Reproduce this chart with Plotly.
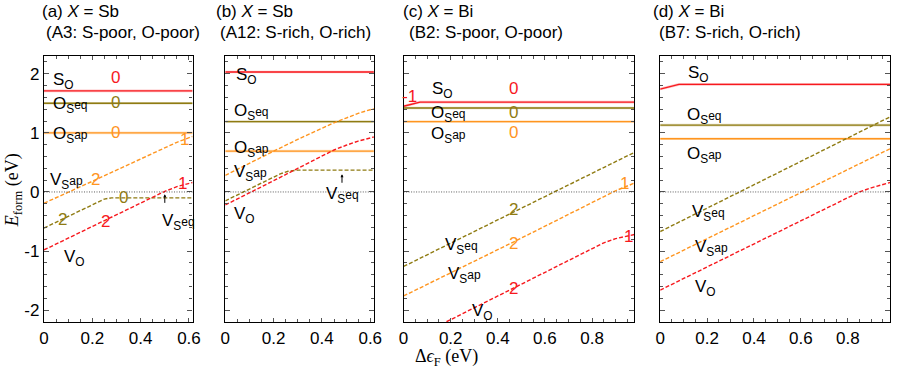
import plotly.graph_objects as go

# ---- data (x in eV of Fermi level shift, y in eV) ----
# panel (a) X = Sb, A3
a_x_flat = [0, 0.615]
a_SO = [1.71, 1.71]
a_OSeq = [1.50, 1.50]
a_OSap = [1.00, 1.00]
a_VSap_x = [0, 0.1, 0.2, 0.3, 0.4, 0.45, 0.5, 0.55, 0.615]
a_VSap = [-0.19, -0.01, 0.18, 0.37, 0.56, 0.66, 0.75, 0.84, 0.94]
a_VSeq_x = [0, 0.1, 0.2, 0.22, 0.25, 0.28, 0.615]
a_VSeq = [-0.61, -0.41, -0.21, -0.17, -0.12, -0.10, -0.10]
a_VO_x = [0, 0.1, 0.2, 0.3, 0.4, 0.5, 0.55, 0.615]
a_VO = [-0.98, -0.78, -0.58, -0.38, -0.18, 0.01, 0.09, 0.16]

# panel (b) X = Sb, A12
b_x_flat = [0, 0.615]
b_SO = [2.03, 2.03]
b_OSeq = [1.19, 1.19]
b_OSap = [0.69, 0.69]
b_VSap_x = [0, 0.1, 0.2, 0.3, 0.4, 0.45, 0.5, 0.55, 0.615]
b_VSap = [0.28, 0.49, 0.69, 0.89, 1.08, 1.17, 1.25, 1.33, 1.41]
b_VSeq_x = [0, 0.1, 0.2, 0.23, 0.26, 0.3, 0.615]
b_VSeq = [-0.15, 0.05, 0.25, 0.31, 0.35, 0.37, 0.37]
b_VO_x = [0, 0.1, 0.2, 0.3, 0.4, 0.45, 0.5, 0.55, 0.615]
b_VO = [-0.22, -0.02, 0.19, 0.40, 0.61, 0.71, 0.79, 0.86, 0.93]

# panel (c) X = Bi, B2
c_SO_x = [0, 0.07, 0.98]
c_SO = [1.45, 1.52, 1.52]
c_x_flat = [0, 0.98]
c_OSeq = [1.42, 1.42]
c_OSap = [1.19, 1.19]
c_VSeq_x = [0, 0.5, 0.98]
c_VSeq = [-1.26, -0.28, 0.67]
c_VSap_x = [0, 0.5, 0.9, 0.98]
c_VSap = [-1.76, -0.78, 0.02, 0.15]
c_VO_x = [0, 0.18, 0.5, 0.8, 0.85, 0.9, 0.98]
c_VO = [-2.56, -2.20, -1.55, -0.95, -0.86, -0.79, -0.72]

# panel (d) X = Bi, B7
d_SO_x = [0, 0.08, 0.98]
d_SO = [1.74, 1.82, 1.82]
d_x_flat = [0, 0.98]
d_OSeq = [1.13, 1.13]
d_OSap = [0.90, 0.90]
d_VSeq_x = [0, 0.98]
d_VSeq = [-0.67, 1.27]
d_VSap_x = [0, 0.98]
d_VSap = [-1.18, 0.73]
d_VO_x = [0, 0.8, 0.85, 0.9, 0.98]
d_VO = [-1.66, -0.09, 0.0, 0.07, 0.16]

titles = ["(a) <i>X</i> = Sb", "(b) <i>X</i> = Sb", "(c) <i>X</i> = Bi", "(d) <i>X</i> = Bi"]
subtitles = ["(A3: S-poor, O-poor)", "(A12: S-rich, O-rich)",
             "(B2: S-poor, O-poor)", "(B7: S-rich, O-rich)"]
y_ticks = [-2, -1, 0, 1, 2]
y_ticktext = ["-2", "-1", "0", "1", "2"]
x_ticks_sb = [0, 0.2, 0.4, 0.6]
x_ticks_bi = [0, 0.2, 0.4, 0.6, 0.8]

RED = "#f7191e"
OLIVE = "#8f7b12"
ORANGE = "#ff951f"
SANS = "Liberation Sans, Arial, sans-serif"
SERIF = "Liberation Serif, Times New Roman, serif"

# pixel layout of the panels
W, H = 899, 376
L, R, T, B = 44, 1, 56, 54
panel_px = [(44, 194), (227, 377), (407, 640), (666, 898)]
xranges = [[0, 0.615], [0, 0.615], [0, 0.98], [0, 0.98]]

fig = go.Figure()


def px_x(p):
    return (p - L) / (W - L - R)


def px_y(p):
    return (H - B - p) / (H - T - B)


def axn(i):
    return "" if i == 0 else str(i + 1)


def solid(i, x, y, color):
    ax = axn(i)
    fig.add_trace(go.Scatter(x=x, y=y, mode="lines", xaxis="x" + ax, yaxis="y" + ax,
                             line=dict(color=color, width=2.6), opacity=0.25,
                             showlegend=False, hoverinfo="skip"))
    fig.add_trace(go.Scatter(x=x, y=y, mode="lines", xaxis="x" + ax, yaxis="y" + ax,
                             line=dict(color=color, width=1.4), showlegend=False))


def dashed(i, x, y, color):
    ax = axn(i)
    fig.add_trace(go.Scatter(x=x, y=y, mode="lines", xaxis="x" + ax, yaxis="y" + ax,
                             line=dict(color=color, width=1.4, dash="4px,2px"),
                             showlegend=False))


def label(i, x, y, text, color="black", size=17, anchor="left"):
    ax = axn(i)
    fig.add_annotation(x=x, y=y, xref="x" + ax, yref="y" + ax, text=text,
                       showarrow=False, xanchor=anchor, yanchor="middle",
                       font=dict(family=SANS, size=size, color=color))


def arrow(i, x, y0, y1):
    ax = axn(i)
    fig.add_annotation(x=x, y=y1, ax=x, ay=y0, xref="x" + ax, yref="y" + ax,
                       axref="x" + ax, ayref="y" + ax, text="", showarrow=True,
                       arrowhead=2, arrowsize=0.6, arrowwidth=1, arrowcolor="black")


# panel a
solid(0, a_x_flat, a_SO, RED)
solid(0, a_x_flat, a_OSeq, OLIVE)
solid(0, a_x_flat, a_OSap, ORANGE)
dashed(0, a_VSap_x, a_VSap, ORANGE)
dashed(0, a_VSeq_x, a_VSeq, OLIVE)
dashed(0, a_VO_x, a_VO, RED)
# panel b
solid(1, b_x_flat, b_SO, RED)
solid(1, b_x_flat, b_OSeq, OLIVE)
solid(1, b_x_flat, b_OSap, ORANGE)
dashed(1, b_VSap_x, b_VSap, ORANGE)
dashed(1, b_VSeq_x, b_VSeq, OLIVE)
dashed(1, b_VO_x, b_VO, RED)
# panel c
solid(2, c_SO_x, c_SO, RED)
solid(2, c_x_flat, c_OSeq, OLIVE)
solid(2, c_x_flat, c_OSap, ORANGE)
dashed(2, c_VSeq_x, c_VSeq, OLIVE)
dashed(2, c_VSap_x, c_VSap, ORANGE)
dashed(2, c_VO_x, c_VO, RED)
# panel d
solid(3, d_SO_x, d_SO, RED)
solid(3, d_x_flat, d_OSeq, OLIVE)
solid(3, d_x_flat, d_OSap, ORANGE)
dashed(3, d_VSeq_x, d_VSeq, OLIVE)
dashed(3, d_VSap_x, d_VSap, ORANGE)
dashed(3, d_VO_x, d_VO, RED)

EQ = "<span style='font-size:12px'>eq</span>"
AP = "<span style='font-size:12px'>ap</span>"
S_O = "S<sub>O</sub>"
O_Seq = "O<sub>S</sub>" + EQ
O_Sap = "O<sub>S</sub>" + AP
V_Seq = "V<sub>S</sub>" + EQ
V_Sap = "V<sub>S</sub>" + AP
V_O = "V<sub>O</sub>"

# species labels
label(0, 0.03, 1.88, S_O)
label(0, 0.03, 1.47, O_Seq)
label(0, 0.03, 0.97, O_Sap)
label(0, 0.015, 0.18, V_Sap)
label(0, 0.075, -1.12, V_O)
label(0, 0.48, -0.50, V_Seq)
arrow(0, 0.50, -0.21, -0.04)

label(1, 0.035, 1.96, S_O)
label(1, 0.028, 1.36, O_Seq)
label(1, 0.028, 0.72, O_Sap)
label(1, 0.028, 0.32, V_Sap)
label(1, 0.028, -0.39, V_O)
label(1, 0.41, -0.05, V_Seq)
arrow(1, 0.483, 0.13, 0.30)

label(2, 0.11, 1.73, S_O)
label(2, 0.107, 1.32, O_Seq)
label(2, 0.107, 0.97, O_Sap)
label(2, 0.167, -0.92, V_Seq)
label(2, 0.181, -1.41, V_Sap)
label(2, 0.282, -2.03, V_O)

label(3, 0.108, 2.0, S_O)
label(3, 0.104, 1.28, O_Seq)
label(3, 0.104, 0.62, O_Sap)
label(3, 0.126, -0.36, V_Seq)
label(3, 0.141, -0.95, V_Sap)
label(3, 0.141, -1.63, V_O)

# charge-state labels
charge_a = [(0.295, 1.93, "0", RED), (0.295, 1.51, "0", OLIVE), (0.295, 1.0, "0", ORANGE),
            (0.63, 1.53, "-1", OLIVE), (0.58, 0.89, "1", ORANGE), (0.214, 0.21, "2", ORANGE),
            (0.575, 0.15, "1", RED), (0.33, -0.10, "0", OLIVE), (0.075, -0.46, "2", OLIVE),
            (0.255, -0.50, "2", RED)]
charge_c = [(0.027, 1.62, "-1", RED), (0.465, 1.75, "0", RED), (0.465, 1.35, "0", OLIVE),
            (0.465, 1.0, "0", ORANGE), (0.465, -0.30, "2", OLIVE), (0.465, -0.88, "2", ORANGE),
            (0.465, -1.63, "2", RED), (0.94, 0.14, "1", ORANGE), (0.955, -0.76, "1", RED)]
for x, y, t, c in charge_a:
    label(0, x, y, t, color=c, anchor="center")
for x, y, t, c in charge_c:
    label(2, x, y, t, color=c, anchor="center")

layout = dict(width=W, height=H, margin=dict(l=L, r=R, t=T, b=B),
              paper_bgcolor="white", plot_bgcolor="white", showlegend=False)
shapes = []
for i in range(4):
    ax = axn(i)
    d0 = px_x(panel_px[i][0])
    d1 = min(1, px_x(panel_px[i][1]))
    layout["xaxis" + ax] = dict(
        domain=[d0, d1], range=xranges[i], anchor="y" + ax,
        tickvals=x_ticks_sb if i < 2 else x_ticks_bi,
        ticks="inside", ticklen=4, tickcolor="#555", showline=True, linecolor="black",
        linewidth=1.3, mirror="ticks", showgrid=False, zeroline=False,
        minor=dict(dtick=0.05, ticks="inside", ticklen=3, tickcolor="#555"),
        tickfont=dict(family=SANS, size=17, color="black"))
    layout["yaxis" + ax] = dict(
        domain=[0, 1], range=[-2.2, 2.3], anchor="x" + ax,
        tickvals=y_ticks, ticktext=y_ticktext, showticklabels=(i == 0),
        ticks="inside", ticklen=5, tickcolor="#555", showline=True, linecolor="black",
        linewidth=1.3, mirror="ticks", showgrid=False, zeroline=False,
        minor=dict(dtick=0.2, ticks="inside", ticklen=3, tickcolor="#555"),
        tickfont=dict(family=SANS, size=17, color="black"))
    shapes.append(dict(type="line", xref="x" + ax + " domain", yref="y" + ax,
                       x0=0, x1=1, y0=0, y1=0,
                       line=dict(color="#333", width=0.8, dash="1px,1.5px")))
layout["shapes"] = shapes
fig.update_layout(**layout)

title_px = [(40, 44), (216, 220), (404, 410), (657, 663)]
for i in range(4):
    fig.add_annotation(x=px_x(title_px[i][0]), y=px_y(12), xref="paper", yref="paper",
                       text=titles[i], showarrow=False, xanchor="left", yanchor="middle",
                       font=dict(family=SANS, size=17, color="black"))
    fig.add_annotation(x=px_x(title_px[i][1]), y=px_y(33), xref="paper", yref="paper",
                       text=subtitles[i], showarrow=False, xanchor="left", yanchor="middle",
                       font=dict(family=SANS, size=17, color="black"))

fig.add_annotation(x=px_x(450), y=px_y(357), xref="paper", yref="paper",
                   text="Δ<i>ϵ</i><sub>F</sub> (eV)", showarrow=False,
                   xanchor="center", yanchor="middle",
                   font=dict(family=SERIF, size=18, color="black"))
fig.add_annotation(x=px_x(13), y=px_y(190), xref="paper", yref="paper",
                   text="<i>E</i><sub>form</sub> (eV)", showarrow=False, textangle=-90,
                   xanchor="center", yanchor="middle",
                   font=dict(family=SERIF, size=18, color="black"))

# drop the default page margin so the figure sits at the window's corner
fig.write_html("out.html", config={"displayModeBar": False},
               post_script="document.body.style.margin='0';")
